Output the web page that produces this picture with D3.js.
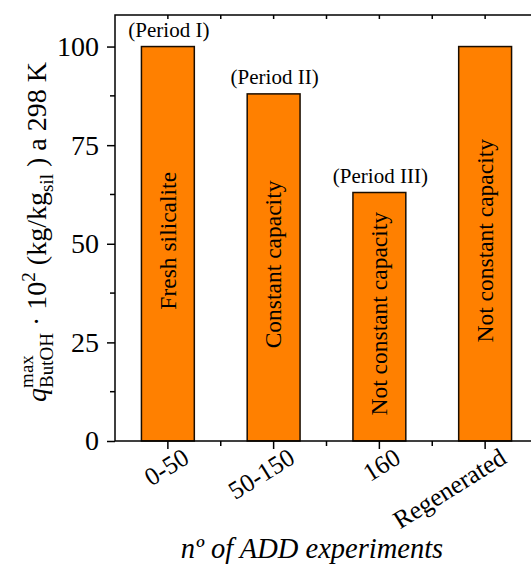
<!DOCTYPE html>
<html>
<head>
<meta charset="utf-8">
<script src="https://cdn.jsdelivr.net/npm/d3@7"></script>
<style>
  body { margin: 0; background: #fff; }
  text { font-family: "Liberation Serif", "Times New Roman", serif; fill: #000; }
</style>
</head>
<body>
<script>
// chart values
const categories = ["0-50", "50-150", "160", "Regenerated"];
const capacity = [100, 88, 63, 100];
const barNotes = ["Fresh silicalite", "Constant capacity", "Not constant capacity", "Not constant capacity"];
const periods = ["(Period I)", "(Period II)", "(Period III)", ""];
const yTicks = [0, 25, 50, 75, 100];
const yMinor = [12.5, 37.5, 62.5, 87.5];

const width = 531, height = 566;
const plot = { left: 115, top: 15, right: 538, bottom: 441 };

const svg = d3.select("body")
    .append("svg")
    .attr("width", width)
    .attr("height", height);

const x = d3.scaleBand()
    .domain(categories)
    .range([plot.left, plot.right])
    .paddingInner(0.5)
    .paddingOuter(0.25);

const y = d3.scaleLinear()
    .domain([0, 108])
    .range([plot.bottom, plot.top]);

const rows = categories.map((c, i) => ({ cat: c, value: capacity[i], note: barNotes[i], period: periods[i] }));

// bars
svg.append("g")
    .selectAll("rect")
    .data(rows)
    .enter()
    .append("rect")
    .attr("x", d => x(d.cat))
    .attr("y", d => y(d.value))
    .attr("width", x.bandwidth())
    .attr("height", d => y(0) - y(d.value))
    .attr("fill", "#ff8000")
    .attr("stroke", "#1a0d00")
    .attr("stroke-width", 1.5);

// text inside bars
svg.append("g")
    .selectAll("text")
    .data(rows)
    .enter()
    .append("text")
    .attr("transform", d => `translate(${x(d.cat) + x.bandwidth() / 2},${(y(d.value) + y(0)) / 2 - 3}) rotate(-90)`)
    .attr("text-anchor", "middle")
    .attr("dy", "0.33em")
    .style("font-size", "23.5px")
    .text(d => d.note);

// period labels above bars
svg.append("g")
    .selectAll("text")
    .data(rows)
    .enter()
    .append("text")
    .attr("x", d => x(d.cat) + x.bandwidth() / 2 + 1)
    .attr("y", d => y(d.value) - 10)
    .attr("text-anchor", "middle")
    .style("font-size", "21px")
    .text(d => d.period);

// frame
svg.append("rect")
    .attr("x", plot.left)
    .attr("y", plot.top)
    .attr("width", plot.right - plot.left)
    .attr("height", plot.bottom - plot.top)
    .attr("fill", "none")
    .attr("stroke", "#000")
    .attr("stroke-width", 1.5);

// left axis
const yAxis = svg.append("g")
    .attr("transform", `translate(${plot.left},0)`)
    .call(d3.axisLeft(y).tickValues(yTicks).tickSize(8).tickSizeOuter(0).tickPadding(8));
yAxis.select(".domain").remove();
yAxis.selectAll("line").attr("stroke-width", 1.5);
yAxis.selectAll("text").style("font-size", "28px");

svg.append("g")
    .selectAll("line")
    .data(yMinor)
    .enter()
    .append("line")
    .attr("x1", plot.left - 5)
    .attr("x2", plot.left)
    .attr("y1", d => y(d))
    .attr("y2", d => y(d))
    .attr("stroke", "#000")
    .attr("stroke-width", 1.5);

// bottom axis
const xAxis = svg.append("g")
    .attr("transform", `translate(0,${plot.bottom})`)
    .call(d3.axisBottom(x).tickSize(8).tickSizeOuter(0).tickPadding(0));
xAxis.select(".domain").remove();
xAxis.selectAll("line").attr("stroke-width", 1.5);
xAxis.selectAll("text")
    .attr("y", 0)
    .attr("dy", 0)
    .attr("transform", "translate(23,21) rotate(-32)")
    .attr("text-anchor", "end")
    .style("font-size", "25.5px");

// minor ticks between categories (bottom outward, top inward)
const mids = categories.slice(0, -1).map(c => x(c) + x.bandwidth() / 2 + x.step() / 2);
const centers = categories.map(c => x(c) + x.bandwidth() / 2);

svg.append("g")
    .selectAll("line")
    .data(mids)
    .enter()
    .append("line")
    .attr("x1", d => d).attr("x2", d => d)
    .attr("y1", plot.bottom).attr("y2", plot.bottom + 5)
    .attr("stroke", "#000").attr("stroke-width", 1.5);

svg.append("g")
    .selectAll("line")
    .data(mids.concat(centers))
    .enter()
    .append("line")
    .attr("x1", d => d).attr("x2", d => d)
    .attr("y1", plot.top).attr("y2", plot.top + 4)
    .attr("stroke", "#000").attr("stroke-width", 1.5);

// y axis title with stacked sub/superscript
const subSize = 19;
const probe = svg.append("text").style("font-size", subSize + "px").text("max");
const maxW = probe.node().getComputedTextLength();
probe.remove();

const yTitle = svg.append("text")
    .attr("transform", "translate(46,232) rotate(-90)")
    .attr("text-anchor", "middle")
    .style("font-size", "28px");
yTitle.append("tspan").style("font-style", "italic").text("q");
yTitle.append("tspan").style("font-size", subSize + "px").attr("dy", -13).text("max");
yTitle.append("tspan").style("font-size", subSize + "px").attr("dx", -maxW).attr("dy", 20).text("ButOH");
yTitle.append("tspan").attr("dy", -7).text(" \u00b7 10");
yTitle.append("tspan").style("font-size", subSize + "px").attr("dy", -11).text("2");
yTitle.append("tspan").attr("dy", 11).text(" (kg/kg");
yTitle.append("tspan").style("font-size", subSize + "px").attr("dy", 7).text("sil");
yTitle.append("tspan").attr("dy", -7).text(" ) a 298 K");

// x axis title
svg.append("text")
    .attr("x", 312)
    .attr("y", 558)
    .attr("text-anchor", "middle")
    .style("font-size", "28.5px")
    .style("font-style", "italic")
    .text("n\u00ba of ADD experiments");
</script>
</body>
</html>
